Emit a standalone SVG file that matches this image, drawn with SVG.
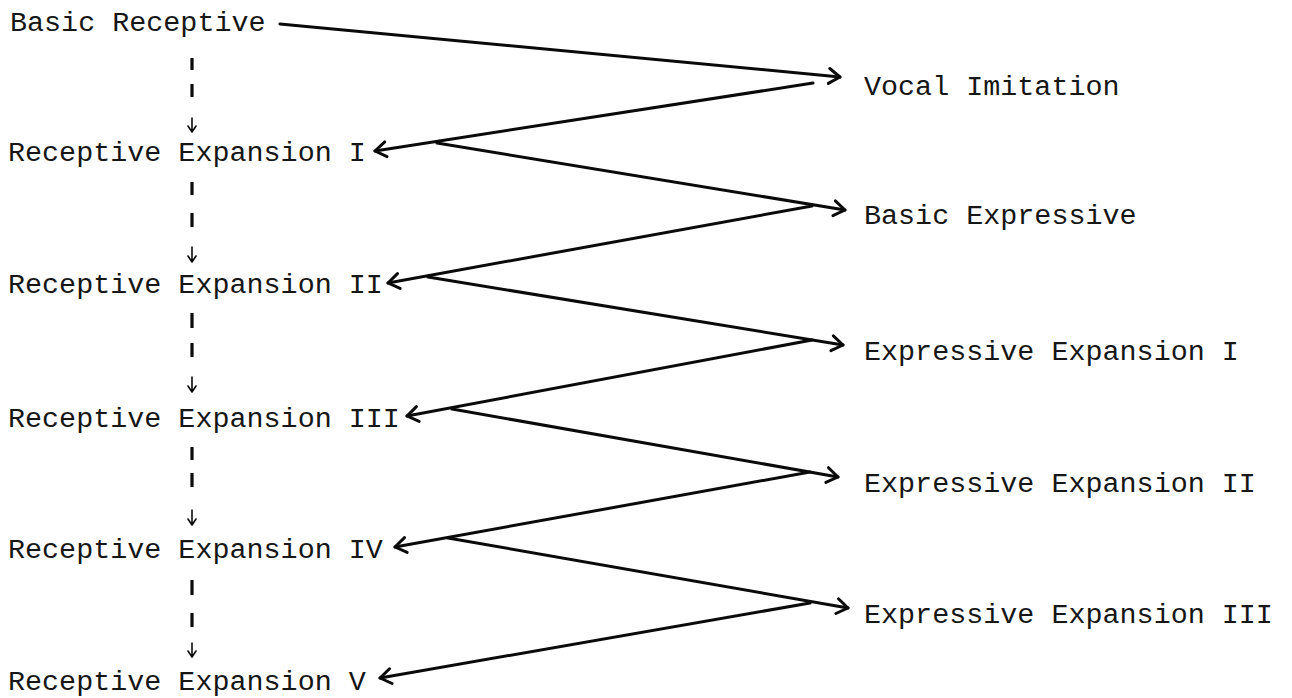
<svg xmlns="http://www.w3.org/2000/svg" width="1292" height="698" viewBox="0 0 1292 698">
<defs>
<style>
.lbl{font-family:"Liberation Mono","DejaVu Sans Mono",monospace;font-size:28.4px;fill:#161616}
.zz{stroke:#0a0a0a;stroke-width:3;fill:none;stroke-linecap:round;stroke-linejoin:round}
.dash{stroke:#0a0a0a;stroke-width:3.2;stroke-linecap:butt}
.down{stroke:#0a0a0a;stroke-width:1.6;fill:none;stroke-linecap:round;stroke-linejoin:round}
</style>
<marker id="chev" markerUnits="userSpaceOnUse" markerWidth="20" markerHeight="20" viewBox="-14 -10 16 20" refX="0" refY="0" orient="auto">
<path d="M-11,-7.5 L0,0 L-11,7.5" fill="none" stroke="#0a0a0a" stroke-width="3" stroke-linecap="round" stroke-linejoin="round"/>
</marker>
</defs>
<rect width="1292" height="698" fill="#ffffff"/>
<g id="basic-receptive"><text class="lbl" x="10" y="31">Basic Receptive</text></g>
<g id="receptive-expansion-1"><text class="lbl" x="8" y="161">Receptive Expansion I</text></g>
<g id="receptive-expansion-2"><text class="lbl" x="8" y="293">Receptive Expansion II</text></g>
<g id="receptive-expansion-3"><text class="lbl" x="8" y="427">Receptive Expansion III</text></g>
<g id="receptive-expansion-4"><text class="lbl" x="8" y="558">Receptive Expansion IV</text></g>
<g id="receptive-expansion-5"><text class="lbl" x="8" y="690">Receptive Expansion V</text></g>
<g id="vocal-imitation"><text class="lbl" x="864" y="95">Vocal Imitation</text></g>
<g id="basic-expressive"><text class="lbl" x="864" y="224">Basic Expressive</text></g>
<g id="expressive-expansion-1"><text class="lbl" x="864" y="360">Expressive Expansion I</text></g>
<g id="expressive-expansion-2"><text class="lbl" x="864" y="492">Expressive Expansion II</text></g>
<g id="expressive-expansion-3"><text class="lbl" x="864" y="623">Expressive Expansion III</text></g>
<g id="connectors">
<path class="zz" d="M280,24 L840,77" marker-end="url(#chev)"/>
<path class="zz" d="M813,83 L375,151" marker-end="url(#chev)"/>
<path class="zz" d="M437,143 L845,210" marker-end="url(#chev)"/>
<path class="zz" d="M812,206 L388,283" marker-end="url(#chev)"/>
<path class="zz" d="M428,277 L843,345" marker-end="url(#chev)"/>
<path class="zz" d="M812,340 L407,416" marker-end="url(#chev)"/>
<path class="zz" d="M452,409 L838,477" marker-end="url(#chev)"/>
<path class="zz" d="M810,472 L395,547" marker-end="url(#chev)"/>
<path class="zz" d="M448,538 L848,608" marker-end="url(#chev)"/>
<path class="zz" d="M810,603 L380,678" marker-end="url(#chev)"/>
<g id="dashed-arrows">
<line class="dash" x1="192" y1="58" x2="192" y2="70"/>
<line class="dash" x1="192" y1="84" x2="192" y2="97"/>
<path class="down" d="M192,118 V132 M188,126 L192,132 L196,126"/>
<line class="dash" x1="192" y1="182" x2="192" y2="195"/>
<line class="dash" x1="192" y1="213" x2="192" y2="227"/>
<path class="down" d="M192,247 V262 M188,256 L192,262 L196,256"/>
<line class="dash" x1="192" y1="313" x2="192" y2="328"/>
<line class="dash" x1="192" y1="343" x2="192" y2="357"/>
<path class="down" d="M192,377 V392 M188,386 L192,392 L196,386"/>
<line class="dash" x1="192" y1="447" x2="192" y2="460"/>
<line class="dash" x1="192" y1="473" x2="192" y2="487"/>
<path class="down" d="M192,510 V525 M188,519 L192,525 L196,519"/>
<line class="dash" x1="192" y1="580" x2="192" y2="595"/>
<line class="dash" x1="192" y1="613" x2="192" y2="627"/>
<path class="down" d="M192,643 V657 M188,651 L192,657 L196,651"/>
</g>
</g>
</svg>
